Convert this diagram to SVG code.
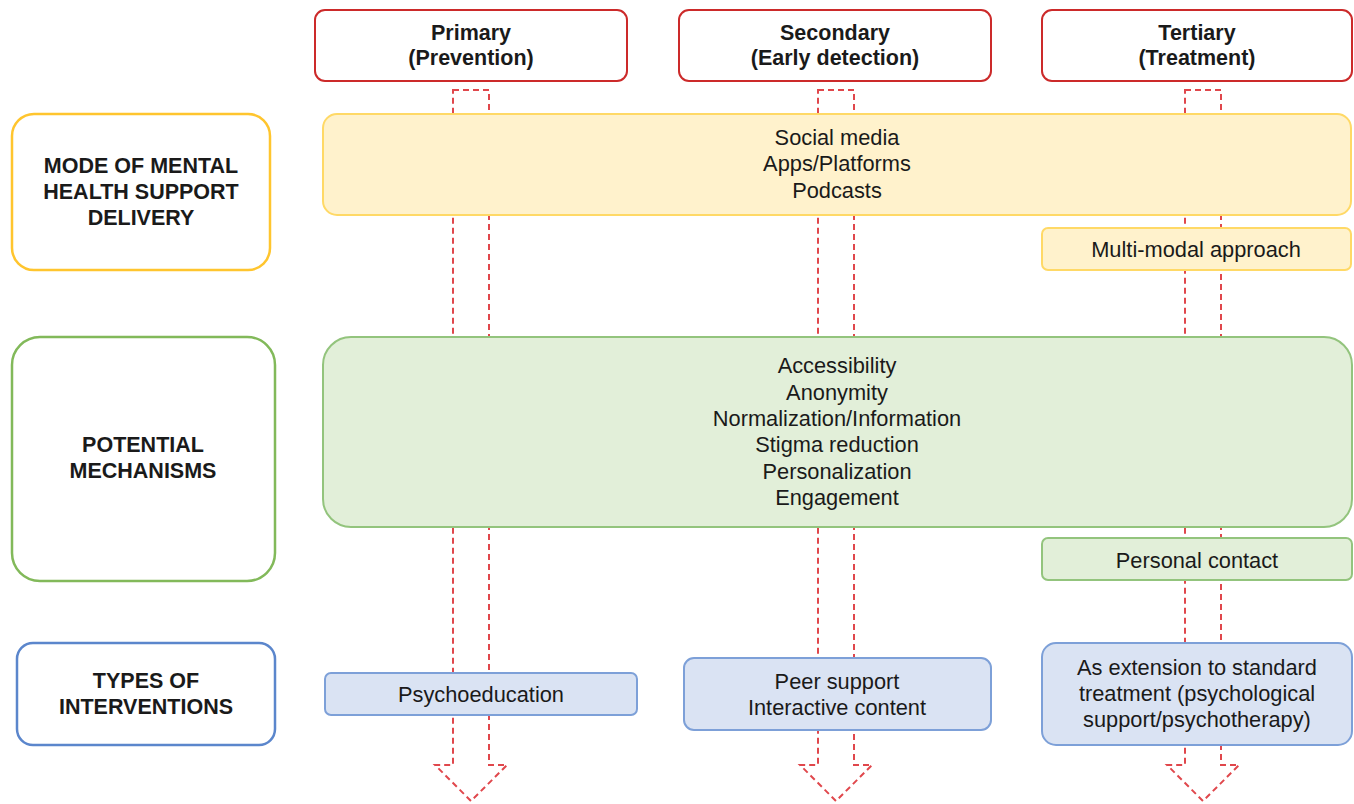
<svg xmlns="http://www.w3.org/2000/svg" width="1354" height="804" viewBox="0 0 1354 804">
<style>
text{font-family:"Liberation Sans",Arial,sans-serif;font-size:21.8px;fill:#1a1a1a;text-anchor:middle;dominant-baseline:central}
.b{font-weight:bold;font-size:21.5px}
.hdr{fill:#fff;stroke:#cc2a2a;stroke-width:2}
.arr{fill:#fff;stroke:#e0474c;stroke-width:2;stroke-dasharray:6 4}
.yl{fill:#fff;stroke:#ffc52e;stroke-width:2.5}
.yf{fill:#fff2cc;stroke:#ffd966;stroke-width:2}
.gl{fill:#fff;stroke:#82b95a;stroke-width:2.5}
.gf{fill:#e2efd9;stroke:#93c47d;stroke-width:2}
.bl{fill:#fff;stroke:#5b86cc;stroke-width:2.5}
.bf{fill:#dae3f3;stroke:#7da0d8;stroke-width:2}
</style>
<g id="connectors">
<path class="arr" d="M453,90 H489 V765 H507 L471,801 L435,765 H453 Z"/>
<path class="arr" d="M818,90 H854 V765 H872 L836,801 L800,765 H818 Z"/>
<path class="arr" d="M1185,90 H1221 V765 H1239 L1203,801 L1167,765 H1185 Z"/>
</g>
<g id="primary"><rect class="hdr" x="315" y="10" width="312" height="71" rx="10"/><text class="b" x="471" y="33">Primary</text><text class="b" x="471" y="58">(Prevention)</text></g>
<g id="secondary"><rect class="hdr" x="679" y="10" width="312" height="71" rx="10"/><text class="b" x="835" y="33">Secondary</text><text class="b" x="835" y="58">(Early detection)</text></g>
<g id="tertiary"><rect class="hdr" x="1042" y="10" width="310" height="71" rx="10"/><text class="b" x="1197" y="33">Tertiary</text><text class="b" x="1197" y="58">(Treatment)</text></g>
<g id="mode-label"><rect class="yl" x="12" y="114" width="258" height="156" rx="22"/><text class="b" x="141" y="166">MODE OF MENTAL</text><text class="b" x="141" y="192">HEALTH SUPPORT</text><text class="b" x="141" y="218">DELIVERY</text></g>
<g id="mode-box"><rect class="yf" x="323" y="114" width="1028" height="101" rx="14"/><text x="837" y="137">Social media</text><text x="837" y="163">Apps/Platforms</text><text x="837" y="190">Podcasts</text></g>
<g id="multimodal"><rect class="yf" x="1042" y="228" width="309" height="42" rx="6"/><text x="1196" y="249">Multi-modal approach</text></g>
<g id="mech-label"><rect class="gl" x="12" y="337" width="263" height="244" rx="28"/><text class="b" x="143" y="445">POTENTIAL</text><text class="b" x="143" y="471">MECHANISMS</text></g>
<g id="mech-box"><rect class="gf" x="323" y="337" width="1029" height="190" rx="28"/><text x="837" y="365">Accessibility</text><text x="837" y="392">Anonymity</text><text x="837" y="418">Normalization/Information</text><text x="837" y="444">Stigma reduction</text><text x="837" y="471">Personalization</text><text x="837" y="497">Engagement</text></g>
<g id="personal"><rect class="gf" x="1042" y="538" width="310" height="42" rx="6"/><text x="1197" y="560">Personal contact</text></g>
<g id="types-label"><rect class="bl" x="17" y="643" width="258" height="102" rx="16"/><text class="b" x="146" y="681">TYPES OF</text><text class="b" x="146" y="707">INTERVENTIONS</text></g>
<g id="psychoeducation"><rect class="bf" x="325" y="673" width="312" height="42" rx="6"/><text x="481" y="694">Psychoeducation</text></g>
<g id="peer"><rect class="bf" x="684" y="658" width="307" height="72" rx="10"/><text x="837" y="681">Peer support</text><text x="837" y="707">Interactive content</text></g>
<g id="extension"><rect class="bf" x="1042" y="643" width="310" height="102" rx="14"/><text x="1197" y="667">As extension to standard</text><text x="1197" y="693">treatment (psychological</text><text x="1197" y="719">support/psychotherapy)</text></g>
</svg>
